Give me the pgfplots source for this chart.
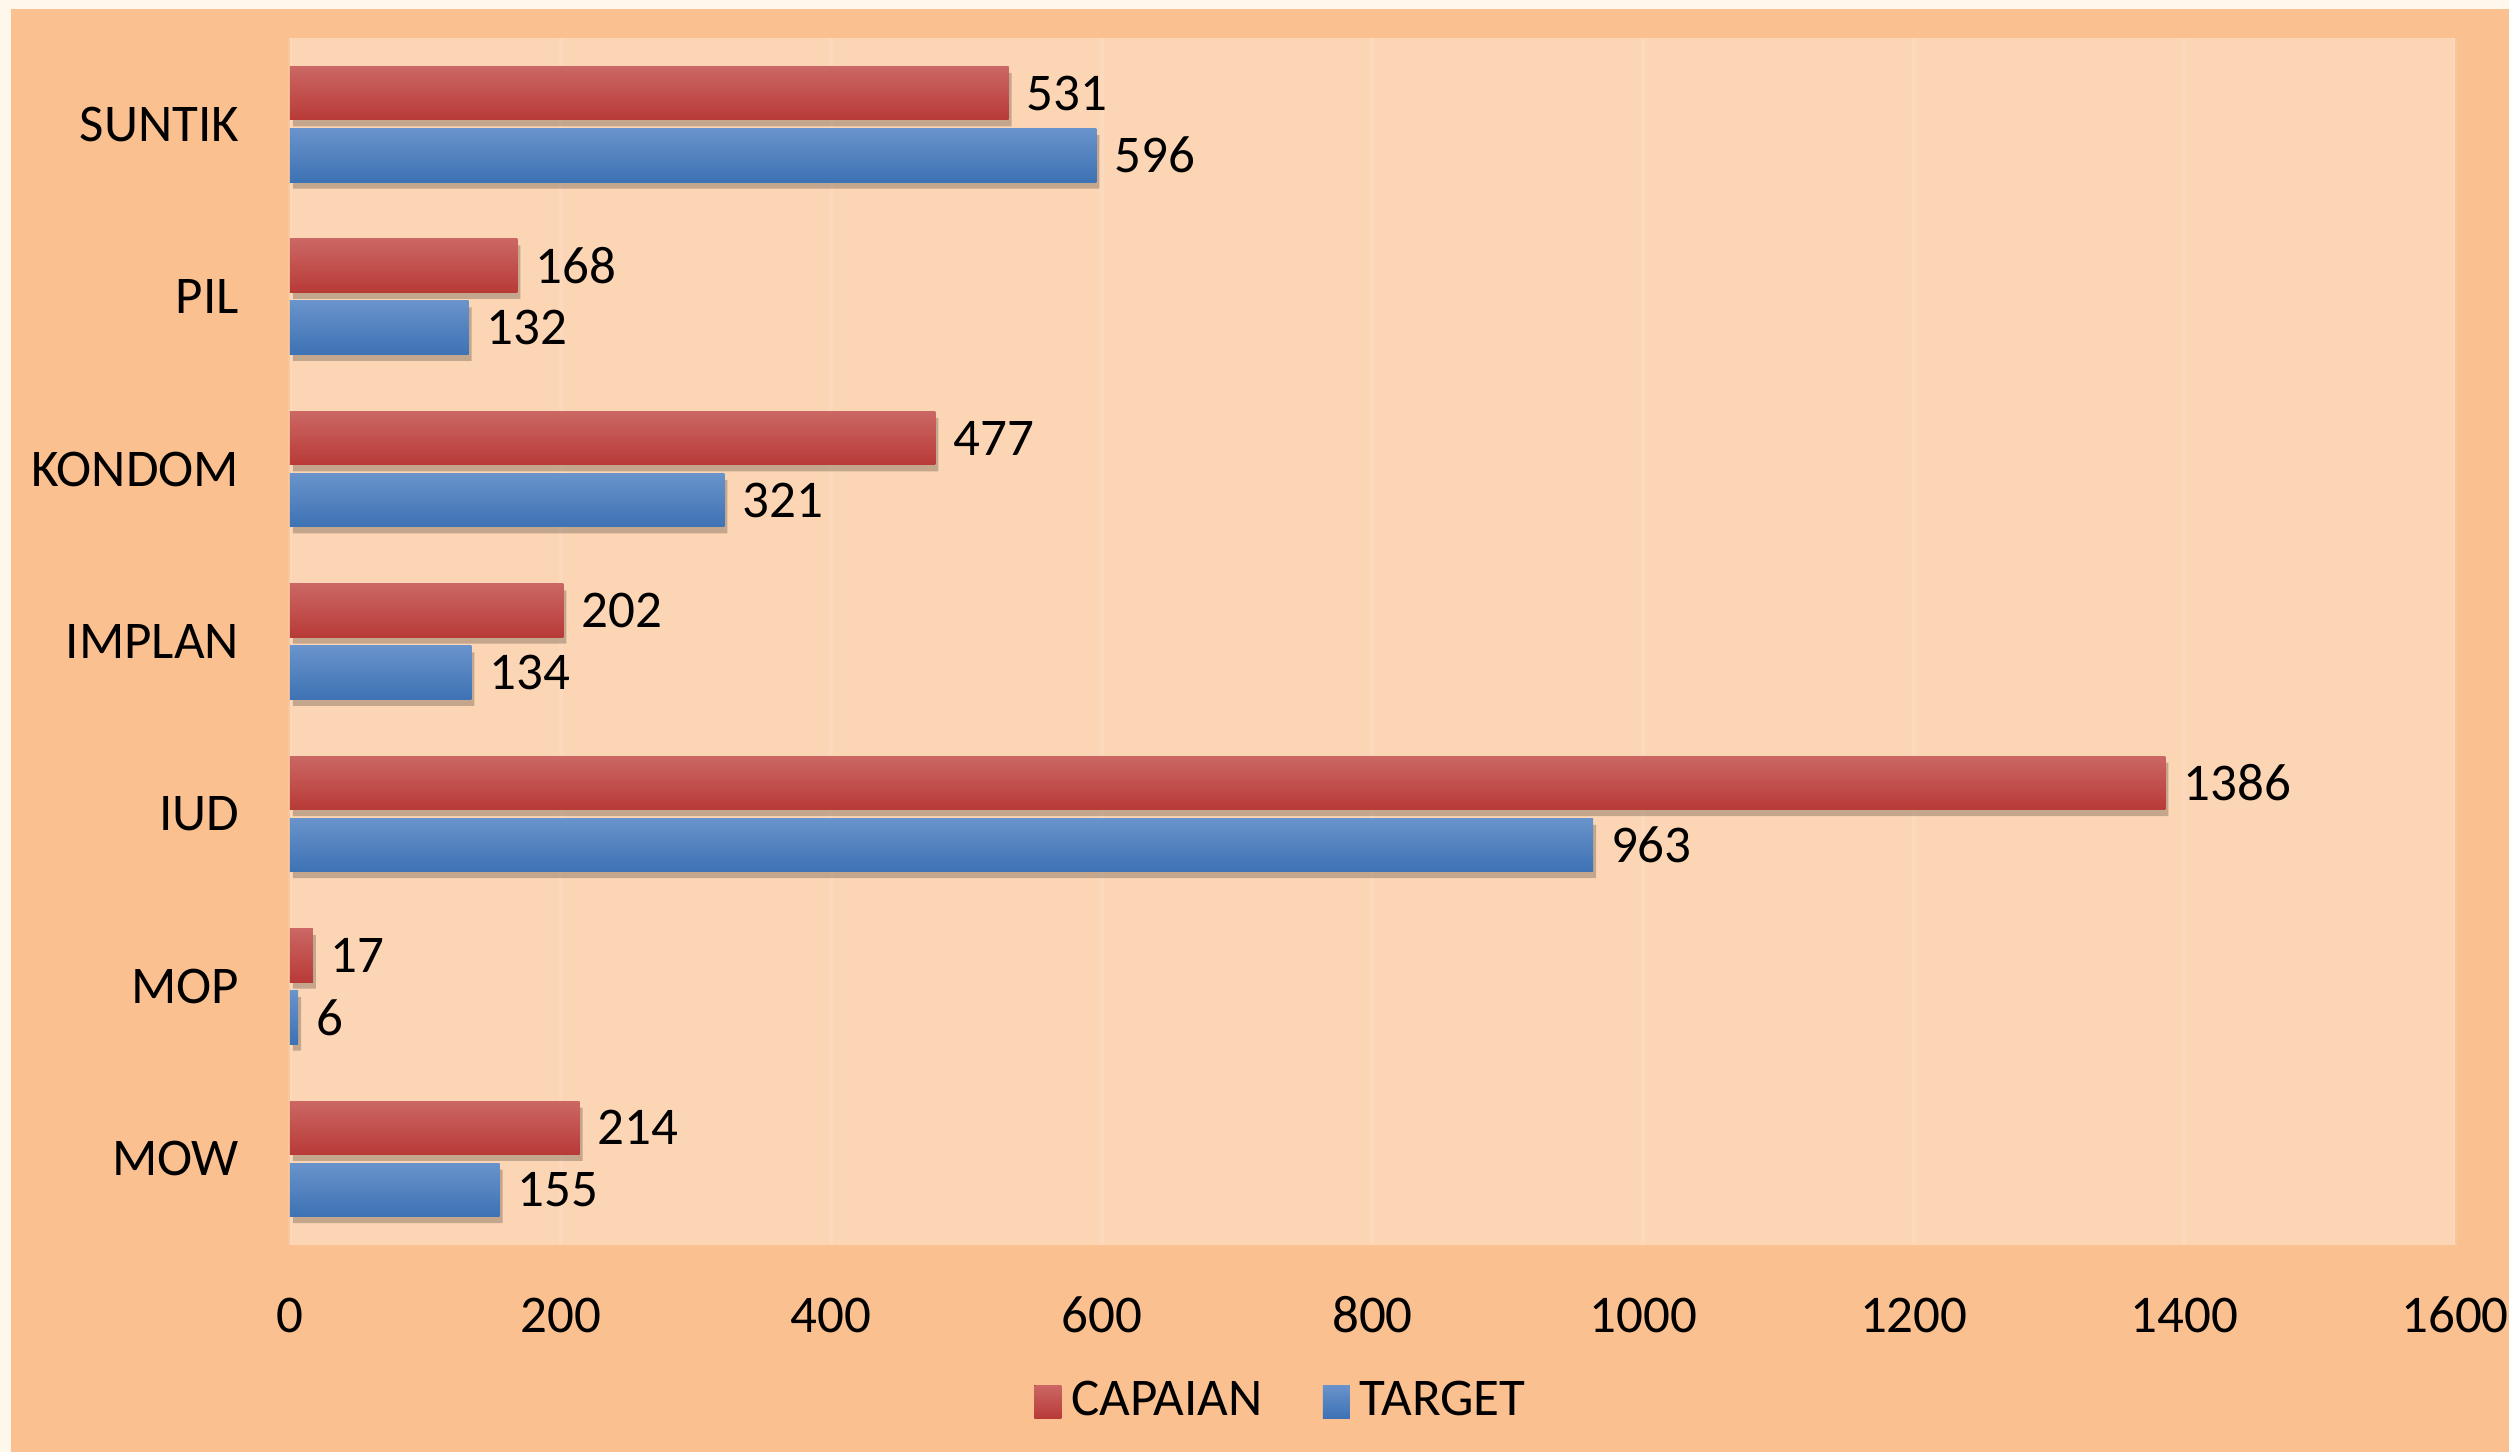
\documentclass[border=0pt]{standalone}
\usepackage{pgfplots}
\pgfplotsset{compat=1.18}
\usepackage{fontspec}
\setmainfont{Carlito}

\definecolor{cream}{HTML}{FEF8EC}
\definecolor{outerbg}{HTML}{FAC090}
\definecolor{innerbg}{HTML}{FCD5B5}
\definecolor{redtop}{HTML}{CB6764}
\definecolor{redbot}{HTML}{B83A37}
\definecolor{bluetop}{HTML}{6993CB}
\definecolor{bluebot}{HTML}{3D72B4}

% y: 0 = MOW ... 6 = SUNTIK
\pgfplotsset{
  capaian/.style={bar shift=0.18, draw=none, top color=redtop, bottom color=redbot},
  target/.style={bar shift=-0.18, draw=none, top color=bluetop, bottom color=bluebot},
  shadow/.style={forget plot, fill=black, draw=none, opacity=0.22,
    xshift=0.6pt, yshift=-1.3pt, nodes near coords=\empty},
}

\begin{document}
\begin{tikzpicture}
  \fill[cream] (0,0) rectangle (501.8pt,290.4pt);
  \fill[outerbg] (2.2pt,0) rectangle (501.8pt,288.6pt);
  \begin{axis}[
      at={(58pt,41.4pt)}, anchor=south west,
      scale only axis,
      width=433pt, height=241.4pt,
      xbar, bar width=0.31,
      xmin=0, xmax=1600, ymin=-0.5, ymax=6.5,
      xtick={0,200,...,1600},
      ytick={0,...,6},
      yticklabels={MOW,MOP,IUD,IMPLAN,KONDOM,PIL,SUNTIK},
      axis background/.style={fill=innerbg},
      axis line style={draw=none},
      major tick length=0pt,
      xmajorgrids,
      major grid style={draw=white, opacity=0.1, line width=0.8pt},
      /pgf/number format/assume math mode=true,
      /pgf/number format/1000 sep={},
      tick label style={font=\fontsize{10.6}{12}\selectfont, text=black},
      xticklabel style={anchor=center, yshift=-14pt},
      yticklabel style={anchor=east, inner sep=0pt, xshift=-10pt},
      nodes near coords,
      nodes near coords style={anchor=west, inner sep=0pt, xshift=3.4pt,
        font=\fontsize{10.6}{12}\selectfont, text=black,
        /pgf/number format/assume math mode=true},
      legend style={at={(0.4596,-0.130)}, anchor=center, draw=none, fill=none,
        legend columns=-1, font=\fontsize{10.6}{12}\selectfont,
        /tikz/every even column/.append style={column sep=10pt}},
      legend image code/.code={\fill[#1,draw=none] (0pt,-3.3pt) rectangle (5.4pt,3.3pt);},
    ]
    % shadows
    \addplot[shadow, bar shift=0.18] coordinates {(214,0) (17,1) (1386,2) (202,3) (477,4) (168,5) (531,6)};
    \addplot[shadow, bar shift=-0.18] coordinates {(155,0) (6,1) (963,2) (134,3) (321,4) (132,5) (596,6)};
    % one plot per bar so that each bar gets its own gradient
    \addplot[capaian] coordinates {(531,6)};
    \addplot[target] coordinates {(596,6)};
    \addplot[capaian, forget plot] coordinates {(168,5)};
    \addplot[target, forget plot] coordinates {(132,5)};
    \addplot[capaian, forget plot] coordinates {(477,4)};
    \addplot[target, forget plot] coordinates {(321,4)};
    \addplot[capaian, forget plot] coordinates {(202,3)};
    \addplot[target, forget plot] coordinates {(134,3)};
    \addplot[capaian, forget plot] coordinates {(1386,2)};
    \addplot[target, forget plot] coordinates {(963,2)};
    \addplot[capaian, forget plot] coordinates {(17,1)};
    \addplot[target, forget plot] coordinates {(6,1)};
    \addplot[capaian, forget plot] coordinates {(214,0)};
    \addplot[target, forget plot] coordinates {(155,0)};
    \legend{CAPAIAN, TARGET}
  \end{axis}
  \pgfresetboundingbox
  \useasboundingbox (0,0) rectangle (501.8pt,290.4pt);
\end{tikzpicture}
\end{document}
